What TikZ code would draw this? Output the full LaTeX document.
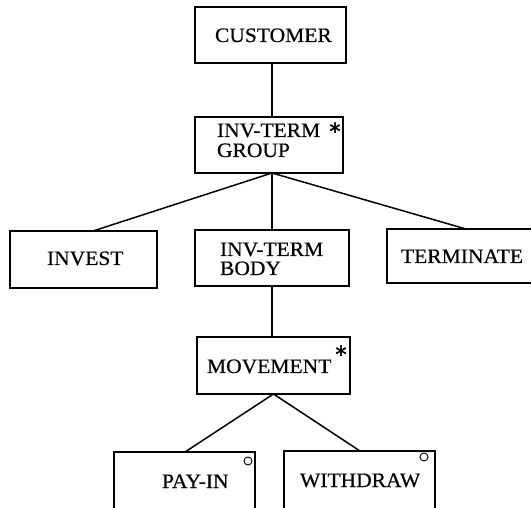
\documentclass[tikz,border=0pt]{standalone}
\usepackage{fontspec}
\setmainfont{Liberation Serif}[FakeStretch=1.05,FakeBold=0.5]
\newfontfamily\starfont{DejaVu Sans}[FakeBold=2]
\usetikzlibrary{calc}

\begin{document}
\begin{tikzpicture}[x=1pt,y=-1pt,
    every node/.style={inner sep=0pt, outer sep=0pt},
    entity/.style={draw, line width=1.5pt, rectangle},
    label/.style={font=\fontsize{20.5}{20}\selectfont, anchor=base west, align=left},
    star/.style={font=\starfont\fontsize{22}{22}\selectfont, anchor=base},
    optmark/.style={draw, line width=0.9pt, circle, minimum size=8pt},
    link/.style={line width=1.5pt}]
  \useasboundingbox (0,0) rectangle (531,508);

  % boxes: centre, width, height
  \node[entity, minimum width=151pt, minimum height=56pt] (customer)  at (270.5,35)  {};
  \node[entity, minimum width=148pt, minimum height=56pt] (group)     at (269,145)   {};
  \node[entity, minimum width=147pt, minimum height=57pt] (invest)    at (83.5,259.5) {};
  \node[entity, minimum width=154pt, minimum height=56pt] (body)      at (272,258)   {};
  \node[entity, minimum width=147pt, minimum height=54pt] (terminate) at (460.5,256) {};
  \node[entity, minimum width=153pt, minimum height=57pt] (movement)  at (273.5,365.5) {};
  \node[entity, minimum width=141pt, minimum height=60pt] (payin)     at (184.5,482) {};
  \node[entity, minimum width=151pt, minimum height=61pt] (withdraw)  at (359.5,481.5) {};

  % texts (multi-line labels are placed by the baseline of their last line)
  \node[label] (tcustomer) at (215,42) {CUSTOMER};
  \node[label] (tgroup) at (217,157) {INV-TERM\\[0pt]GROUP};
  \node[star] (sgroup) at (335,139) {*};
  \node[label] (tinvest) at (47,265) {INVEST};
  \node[label] (tbody) at (220,275) {INV-TERM\\[-1pt]BODY};
  \node[label] (tterminate) at (401,263) {TERMINATE};
  \node[label] (tmovement) at (207,373) {MOVEMENT};
  \node[star] (smovement) at (341,362) {*};
  \node[label] (tpayin) at (162,488) {PAY-IN};
  \node[label] (twithdraw) at (300,487) {WITHDRAW};

  % option marks
  \node[optmark] (opayin) at (248,461) {};
  \node[optmark] (owithdraw) at (424,457) {};

  % tree connectors
  \draw[link] ($(customer.south)+(1.5,0)$) -- ($(group.north)+(3,0)$);
  \draw[link] ($(group.south)+(3,0)$) -- ($(invest.north)+(9.5,0)$);
  \draw[link] ($(group.south)+(3,0)$) -- (body.north);
  \draw[link] ($(group.south)+(3,0)$) -- ($(terminate.north)+(5.5,0)$);
  \draw[link] (body.south) -- ($(movement.north)+(-1.5,0)$);
  \draw[link] (movement.south) -- ($(payin.north)+(0.5,0)$);
  \draw[link] (movement.south) -- ($(withdraw.north)+(0.5,0)$);
\end{tikzpicture}
\end{document}
